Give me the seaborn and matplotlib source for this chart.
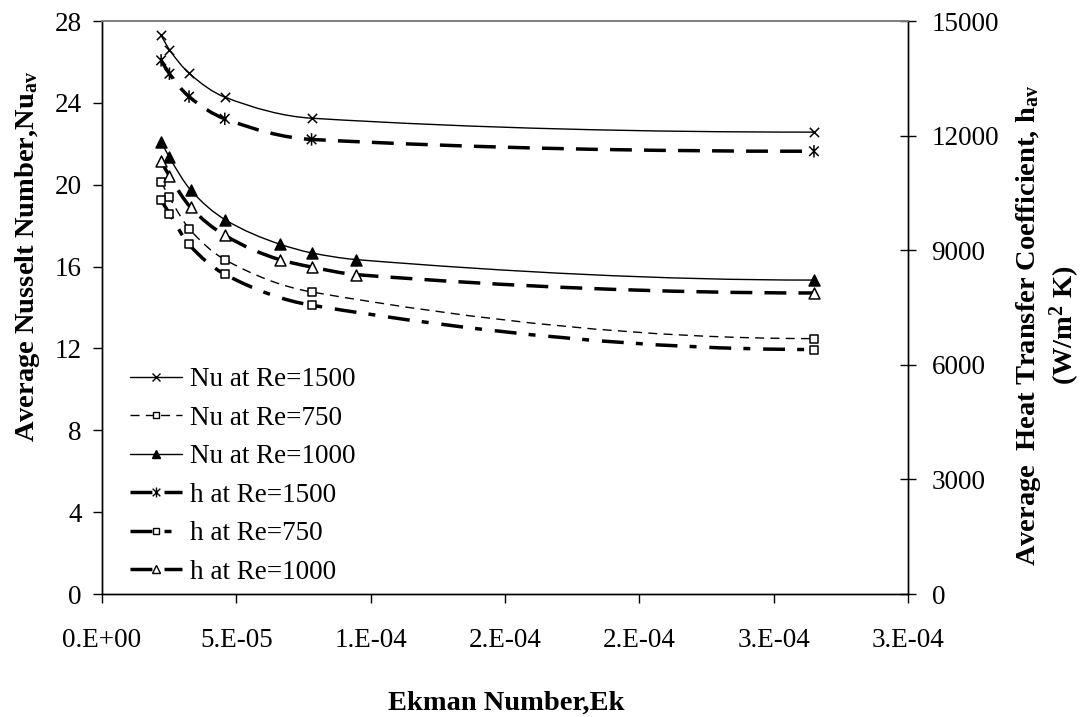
import numpy as np
import matplotlib
matplotlib.use("Agg")
import matplotlib.pyplot as plt
import seaborn as sns
from matplotlib.path import Path
from matplotlib.patches import PathPatch
from matplotlib.lines import Line2D

# ---------------- data ----------------
ek_a = [2.20e-5, 2.51e-5, 3.24e-5, 4.57e-5, 7.80e-5, 2.65e-4]            # Re=1500, Re=750
ek_b = [2.20e-5, 2.51e-5, 3.30e-5, 4.57e-5, 6.63e-5, 7.80e-5, 9.47e-5, 2.65e-4]  # Re=1000

nu_1500 = [27.30, 26.60, 25.45, 24.28, 23.25, 22.57]
nu_750 = [20.15, 19.38, 17.86, 16.34, 14.76, 12.48]
nu_1000 = [22.11, 21.34, 19.74, 18.30, 17.09, 16.67, 16.34, 15.34]

h_1500 = [13970, 13620, 13020, 12440, 11900, 11590]
h_750 = [10310, 9960, 9150, 8370, 7560, 6400]
h_1000 = [11340, 10940, 10120, 9390, 8750, 8560, 8360, 7880]

xticks = [0, 5e-5, 1e-4, 1.5e-4, 2e-4, 2.5e-4, 3e-4]
xtick_labels = ["0.E+00", "5.E-05", "1.E-04", "2.E-04", "2.E-04", "3.E-04", "3.E-04"]
yticks_left = [0, 4, 8, 12, 16, 20, 24, 28]
yticks_right = [0, 3000, 6000, 9000, 12000, 15000]

labels = ["Nu at Re=1500", "Nu at Re=750", "Nu at Re=1000",
          "h at Re=1500", "h at Re=750", "h at Re=1000"]

# ---------------- style ----------------
sns.set_theme(style="ticks", rc={"axes.edgecolor": "black", "xtick.color": "black",
                                 "ytick.color": "black", "text.color": "black"})
plt.rcParams["font.family"] = ["Liberation Serif", "DejaVu Serif"]
plt.rcParams["mathtext.fontset"] = "custom"
plt.rcParams["mathtext.rm"] = "Liberation Serif"
plt.rcParams["mathtext.bf"] = "Liberation Serif:bold"
plt.rcParams["mathtext.it"] = "Liberation Serif:italic"

FS = 19.5
FS_T = 20.5

star = Path([(-1, -1), (1, 1), (-1, 1), (1, -1), (0, -1.3), (0, 1.3)],
            [Path.MOVETO, Path.LINETO, Path.MOVETO, Path.LINETO, Path.MOVETO, Path.LINETO])


def smooth_path(x, y):
    """Monotone cubic (Fritsch-Carlson) rendered as Bezier segments through the data."""
    x = np.asarray(x, float)
    y = np.asarray(y, float)
    h = np.diff(x)
    d = np.diff(y) / h
    n = len(x)
    m = np.zeros(n)
    for k in range(1, n - 1):
        if d[k - 1] * d[k] <= 0:
            m[k] = 0
        else:
            w1 = 2 * h[k] + h[k - 1]
            w2 = h[k] + 2 * h[k - 1]
            m[k] = (w1 + w2) / (w1 / d[k - 1] + w2 / d[k])

    def end(h0, h1, d0, d1):
        mm = ((2 * h0 + h1) * d0 - h0 * d1) / (h0 + h1)
        if np.sign(mm) != np.sign(d0):
            mm = 0
        elif np.sign(d0) != np.sign(d1) and abs(mm) > abs(3 * d0):
            mm = 3 * d0
        return mm

    m[0] = end(h[0], h[1], d[0], d[1])
    m[-1] = end(h[-1], h[-2], d[-1], d[-2])
    verts = [(x[0], y[0])]
    codes = [Path.MOVETO]
    for k in range(n - 1):
        verts += [(x[k] + h[k] / 3, y[k] + m[k] * h[k] / 3),
                  (x[k + 1] - h[k] / 3, y[k + 1] - m[k + 1] * h[k] / 3),
                  (x[k + 1], y[k + 1])]
        codes += [Path.CURVE4] * 3
    return Path(verts, codes)


fig = plt.figure(figsize=(10.87, 7.17), dpi=100)
ax = fig.add_axes([102 / 1087, 1 - 594 / 717, 806 / 1087, 573 / 717])
ax2 = ax.twinx()

thin = 1.0
thick = 2.5
series = [
    # axis, x, y, linestyle, lw, marker, size, face
    (ax, ek_a, nu_1500, "-", thin, "x", 45, None),
    (ax, ek_a, nu_750, (0, (6.5, 4.5)), thin, "s", 34, "white"),
    (ax, ek_b, nu_1000, "-", thin, "^", 62, "black"),
    (ax2, ek_a, h_1500, (0, (6.3, 3.5)), thick, star, 80, "none"),
    (ax2, ek_a, h_750, (0, (6.3, 3.5, 2.0, 3.7)), thick, "s", 34, "white"),
    (ax2, ek_b, h_1000, (0, (6.3, 3.5)), thick, "^", 62, "white"),
]

handles = []
for (a, xs, ys, ls, lw, mk, sz, face), lab in zip(series, labels):
    patch = PathPatch(smooth_path(xs, ys), facecolor="none", edgecolor="black",
                      linewidth=lw, linestyle=ls, zorder=2, capstyle="butt")
    a.add_patch(patch)
    if face is None:
        sns.scatterplot(x=xs, y=ys, ax=a, marker=mk, s=sz, color="black",
                        linewidth=1.1, zorder=3, legend=False)
    else:
        sns.scatterplot(x=xs, y=ys, ax=a, marker=mk, s=sz, facecolor=face,
                        edgecolor="black", linewidth=1.1, zorder=3, legend=False)
    handles.append(Line2D([], [], color="black", linestyle=ls, lw=lw, marker=mk,
                          markersize=np.sqrt(sz) * 0.8,
                          markerfacecolor=(face if face is not None else "black"),
                          markeredgecolor="black", markeredgewidth=1.0, label=lab))

ax.set_xlim(0, 3e-4)
ax.set_ylim(0, 28)
ax2.set_ylim(0, 15000)
ax.set_xticks(xticks)
ax.set_xticklabels(xtick_labels)
ax.set_yticks(yticks_left)
ax.set_yticklabels([str(v) for v in yticks_left])
ax2.set_yticks(yticks_right)
ax2.set_yticklabels([str(v) for v in yticks_right])

ax.tick_params(axis="x", direction="out", length=6.5, width=1, labelsize=FS, pad=18)
ax.tick_params(axis="y", direction="out", length=6.5, width=1, labelsize=FS, pad=8)
ax2.tick_params(axis="y", direction="inout", length=12, width=1, labelsize=FS, pad=11)

for a in (ax, ax2):
    for s in ("left", "right", "bottom"):
        a.spines[s].set_color("black")
        a.spines[s].set_linewidth(1.0)
        a.spines[s].set_visible(True)
    a.spines["top"].set_visible(True)
    a.spines["top"].set_color("#808080")
    a.spines["top"].set_linewidth(1.3)
    a.set_xlabel("")
    a.set_ylabel("")
ax.grid(False)
ax2.grid(False)

leg = ax2.legend(handles=handles, loc="upper left", bbox_to_anchor=(0.035, 0.396),
                 frameon=False, fontsize=FS, handlelength=1.9, handletextpad=0.3,
                 labelspacing=0.5, borderpad=0, borderaxespad=0)

fig.text(506 / 1087, 1 - 703 / 717, "Ekman Number,Ek", ha="center", va="center",
         fontsize=FS_T, fontweight="bold")
fig.text(28 / 1087, 1 - 256 / 717, r"Average Nusselt Number,Nu$_{\mathbf{av}}$",
         ha="center", va="center", rotation=90, fontsize=FS_T, fontweight="bold")
fig.text(1048 / 1087, 1 - 325 / 717,
         "Average  Heat Transfer Coefficient, h$_{\\mathbf{av}}$\n(W/m$^{\\mathbf{2}}$ K)",
         ha="center", va="center", rotation=90, fontsize=FS_T, fontweight="bold",
         multialignment="center", linespacing=1.2)

fig.savefig("out.png", dpi=100)
